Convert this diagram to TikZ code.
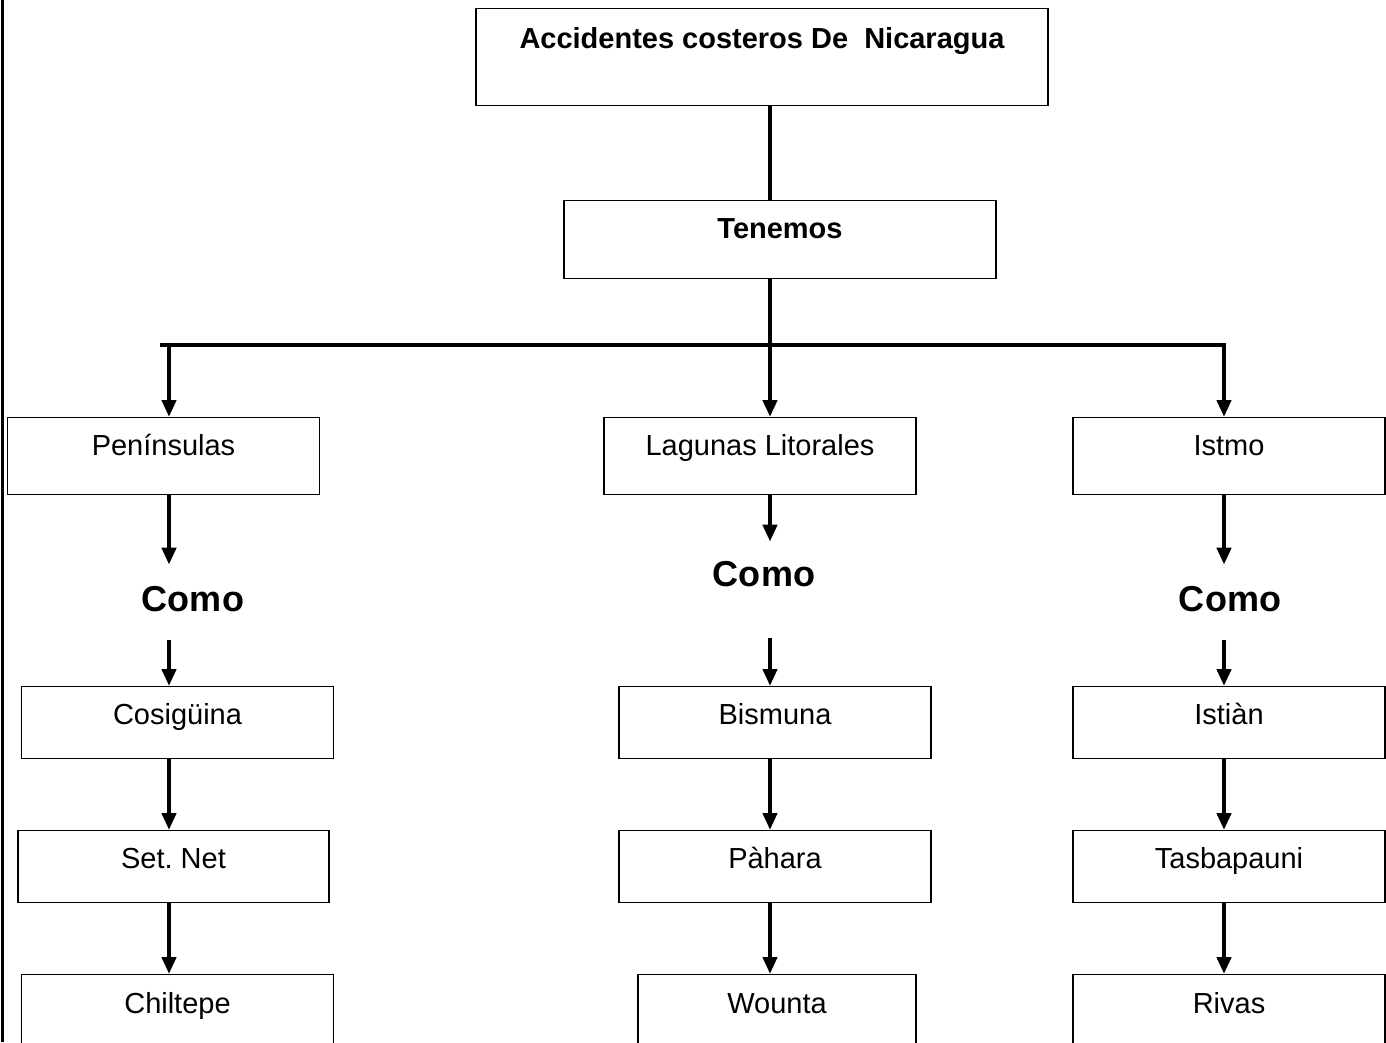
\documentclass[tikz,border=0pt]{standalone}
\usepackage{fontspec}
\setmainfont{Liberation Sans}
\usetikzlibrary{arrows.meta}
\frenchspacing

\begin{document}
\begin{tikzpicture}[x=0.02cm,y=-0.02cm,
	box/.style={draw,line width=0.8pt,inner sep=0pt,anchor=north,text height=0.76cm,text depth=0.68cm,minimum width=6.24cm,font=\fontsize{16.5}{20}\selectfont},
	head/.style={box,font=\bfseries\fontsize{16.5}{20}\selectfont},
	como/.style={inner sep=0pt,anchor=base,font=\bfseries\fontsize{20.5}{24}\selectfont},
	link/.style={line width=2.5pt},
	arr/.style={link,-{Triangle[width=0.28cm,length=0.34cm]}}]
	\useasboundingbox (0,0) rectangle (1386,1042);
	\draw[line width=1.7pt] (2.5,0) -- (2.5,1042);

	% titulo y tenemos
	\node[head,minimum width=11.44cm,text height=0.8cm,text depth=1.14cm] (titulo) at (762,8) {Accidentes costeros De\ \ Nicaragua};
	\node[head,minimum width=8.64cm,text depth=0.8cm] (tenemos) at (780,200) {Tenemos};

	% primera fila
	\node[box,text depth=0.78cm] (pen) at (163.5,417) {Penínsulas};
	\node[box,text depth=0.78cm] (lag) at (760,417) {Lagunas Litorales};
	\node[box,text depth=0.78cm] (ist) at (1229,417) {Istmo};

	\node[como,text height=0.92cm,text depth=0.58cm] (como1) at (193,611) {Como};
	\node[como,text height=0.88cm,text depth=1.04cm] (como2) at (764,586) {Como};
	\node[como,text height=0.92cm,text depth=0.58cm] (como3) at (1230,611) {Como};

	\node[box] (cos) at (177.5,686) {Cosigüina};
	\node[box] (bis) at (775,686) {Bismuna};
	\node[box] (istian) at (1229,686) {Istiàn};

	\node[box,minimum width=6.22cm] (set) at (173.5,830) {Set.\ Net};
	\node[box] (pah) at (775,830) {Pàhara};
	\node[box] (tas) at (1229,830) {Tasbapauni};

	\node[box,text height=0.78cm] (chi) at (177.5,974) {Chiltepe};
	\node[box,minimum width=5.56cm,text height=0.78cm] (wou) at (777,974) {Wounta};
	\node[box,text height=0.78cm] (riv) at (1229,974) {Rivas};

	% lineas
	\coordinate (cl) at (169,345);
	\coordinate (cm) at (770,345);
	\coordinate (cr) at (1224,345);
	\coordinate (barl) at (160,345);
	\coordinate (barr) at (1226,345);

	\draw[link] (titulo.south -| cm) -- (tenemos.north -| cm);
	\draw[link] (barl) -- (barr);
	\draw[arr] (tenemos.south -| cm) -- (lag.north -| cm);
	\draw[arr] (cl) -- (pen.north -| cl);
	\draw[arr] (cr) -- (ist.north -| cr);

	\draw[arr] (pen.south -| cl) -- (como1.north -| cl);
	\draw[arr] (como1.south -| cl) -- (cos.north -| cl);
	\draw[arr] (cos.south -| cl) -- (set.north -| cl);
	\draw[arr] (set.south -| cl) -- (chi.north -| cl);

	\draw[arr] (lag.south -| cm) -- (como2.north -| cm);
	\draw[arr] (como2.south -| cm) -- (bis.north -| cm);
	\draw[arr] (bis.south -| cm) -- (pah.north -| cm);
	\draw[arr] (pah.south -| cm) -- (wou.north -| cm);

	\draw[arr] (ist.south -| cr) -- (como3.north -| cr);
	\draw[arr] (como3.south -| cr) -- (istian.north -| cr);
	\draw[arr] (istian.south -| cr) -- (tas.north -| cr);
	\draw[arr] (tas.south -| cr) -- (riv.north -| cr);
\end{tikzpicture}
\end{document}
